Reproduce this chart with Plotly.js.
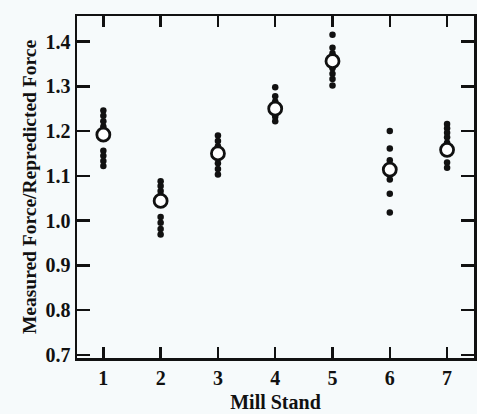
<!DOCTYPE html>
<html>
<head>
<meta charset="utf-8">
<script src="https://cdn.plot.ly/plotly-3.0.1.min.js"></script>
<style>html,body{margin:0;padding:0;background:#f6fafb;}#chart{width:477px;height:414px;}</style>
</head>
<body>
<div id="chart"></div>
<script>
const stands = [1, 2, 3, 4, 5, 6, 7];
const meanForce = [1.192, 1.044, 1.150, 1.250, 1.356, 1.114, 1.158];
const stand1 = [1.246, 1.234, 1.222, 1.210, 1.156, 1.145, 1.133, 1.122];
const stand2 = [1.088, 1.077, 1.066, 1.056, 1.008, 0.995, 0.981, 0.969];
const stand3 = [1.190, 1.178, 1.166, 1.158, 1.140, 1.128, 1.115, 1.103];
const stand4 = [1.298, 1.278, 1.266, 1.242, 1.232, 1.222];
const stand5 = [1.415, 1.386, 1.374, 1.340, 1.328, 1.316, 1.302];
const stand6 = [1.200, 1.161, 1.135, 1.092, 1.060, 1.018];
const stand7 = [1.216, 1.206, 1.196, 1.186, 1.174, 1.130, 1.118];

const allDots = [stand1, stand2, stand3, stand4, stand5, stand6, stand7];
const dx = [], dy = [];
allDots.forEach((arr, i) => arr.forEach(v => { dx.push(stands[i]); dy.push(v); }));

const serif = "Liberation Serif, DejaVu Serif, serif";
const traces = [
  {x: dx, y: dy, type: 'scatter', mode: 'markers',
   marker: {color: '#111', size: 6.5}, hoverinfo: 'skip'},
  {x: stands, y: meanForce, type: 'scatter', mode: 'markers',
   marker: {color: '#ffffff', size: 13, line: {color: '#111', width: 2.8}}}
];
const layout = {
  width: 477, height: 414,
  margin: {l: 77, r: 3, t: 16, b: 56},
  paper_bgcolor: '#f6fafb', plot_bgcolor: '#f6fafb',
  showlegend: false,
  font: {family: serif, color: '#111'},
  xaxis: {
    range: [0.54, 7.47], tickvals: stands, ticktext: stands.map(s => '<b>' + s + '</b>'),
    ticks: 'inside', ticklen: 11, tickwidth: 2.5, tickcolor: '#111',
    showline: true, linewidth: 2.5, linecolor: '#111', mirror: 'ticks',
    showgrid: false, zeroline: false,
    tickfont: {family: serif, size: 20, color: '#111'},
    title: {text: '<b>Mill Stand</b>', font: {family: serif, size: 20, color: '#111'}, standoff: 8}
  },
  yaxis: {
    range: [0.693, 1.457], tickvals: [0.7, 0.8, 0.9, 1.0, 1.1, 1.2, 1.3, 1.4],
    ticktext: ['0.7', '0.8', '0.9', '1.0', '1.1', '1.2', '1.3', '1.4'].map(t => '<b>' + t + '</b>'),
    ticks: 'inside', ticklen: 13, tickwidth: 2.5, tickcolor: '#111',
    showline: true, linewidth: 2.5, linecolor: '#111', mirror: 'ticks',
    showgrid: false, zeroline: false,
    tickfont: {family: serif, size: 20, color: '#111'},
    title: {text: '<b>Measured Force/Repredicted Force</b>', font: {family: serif, size: 19.5, color: '#111'}, standoff: 4}
  }
};
Plotly.newPlot('chart', traces, layout, {displayModeBar: false, staticPlot: true});
</script>
</body>
</html>
